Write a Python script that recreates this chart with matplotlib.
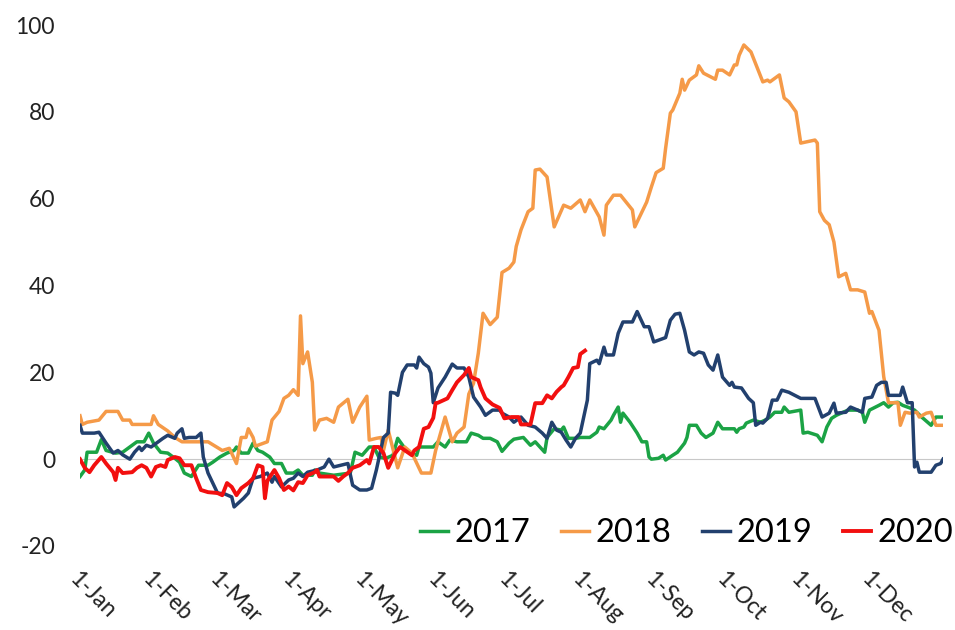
import matplotlib
matplotlib.use("Agg")
import matplotlib.pyplot as plt
import numpy as np

plt.rcParams['font.family'] = ['Lato', 'DejaVu Sans']

# day-of-year offsets (0 = 1-Jan) and values
d2017 = [0,2,3,7,9,11,15,18,21,24,27,29,31,34,37,40,42,44,47,50,54,56,59,62,65,66,68,71,73,75,77,80,82,85,87,90,92,94,98,99,101,107,114,116,119,122,124,126,129,132,134,137,139,142,143,149,151,154,156,159,163,165,168,170,173,176,178,181,183,187,190,192,196,197,200,203,204,206,209,211,215,218,219,221,224,225,227,228,229,232,235,237,239,240,241,244,246,247,250,252,255,256,257,260,262,264,267,269,271,276,277,278,280,281,284,287,289,291,293,296,297,299,304,305,307,311,313,315,317,319,321,324,328,330,331,333,337,339,341,343,345,347,350,352,355,359,361,364]
v2017 = [-4,-2.5,1.6,1.6,4.5,2,1.4,1.6,2.8,4,4,6,3.7,1.6,1.4,0.2,-0.7,-3.2,-4,-1.4,-1.4,-0.7,0.5,1.4,2,2.8,1.4,1.4,3.7,2,1.6,0.5,-1,-1,-3.2,-3.2,-2.5,-3.7,-3.7,-2.5,-3.2,-3.7,-3.2,1.6,0.9,2.8,2.8,0.5,0.2,0.9,4.8,2.5,1.4,0.9,2.8,2.8,4,2.8,4.4,4,4,6,5.5,4.8,4.8,4,1.8,3.7,4.6,5,3.2,4,1.6,5,7,6.7,7.4,4.8,4.8,5,5,6.2,7.4,7,9,10.1,12,8.5,10.6,8.5,6,4,4,0.5,0,0.2,0.9,-0.2,0.9,1.6,3.7,5,7.8,7.8,6,5,6,8.5,7,7,6.2,7,7.4,8.3,9,8.5,9,9.7,10.8,10.8,12,10.8,11.3,6,6.2,5.5,4,7.4,9.4,10.1,10.6,11.3,11.3,10.8,8.5,11.3,12.4,13,12,13,13.1,12.4,11.8,11.3,9.7,7.8,9.7,9.7]

d2018 = [0,1,3,8,11,16,18,21,22,30,31,33,37,40,43,54,57,60,63,66,68,70,71,73,74,79,81,84,86,88,90,92,93,94,96,98,99,101,104,107,109,113,115,118,121,122,125,127,128,130,134,137,140,144,148,150,154,157,159,162,164,166,168,170,173,176,178,181,183,184,186,189,191,192,194,197,200,204,207,211,213,215,219,221,222,225,228,233,234,239,241,243,246,247,249,250,253,254,255,257,260,261,263,268,269,271,274,276,277,278,280,283,288,290,291,295,297,299,302,304,310,311,312,314,316,318,320,323,325,328,331,333,334,337,339,341,345,346,348,350,353,354,357,359,361,364]
v2018 = [10,8,8.5,9,11,11,9,9,8,8,10,8,6.5,5,4,4,3,2,2.5,-1,5,5,7,5,3,4,9,11,14,14.7,16,14.7,33,22,24.7,17.7,6.7,9,9.4,8.5,12,13.8,8.5,12,14.5,4.4,4.8,5,2,6.7,-2,2.8,1.4,-3.2,-3.2,2,9.7,4,6,7.4,15,17.5,24.4,33.6,31,32.7,43,44,45.4,49,52.8,57,57.8,66.6,66.8,65,53.5,58.5,57.8,59.7,57,59.7,55.8,51.6,58.5,60.8,60.8,57.4,53.5,59.2,62.7,66,67,71.6,79.7,80.4,84.3,87.5,85,87.3,88.5,90.6,88.9,87.5,89.6,89.6,88.5,90.8,90.8,93,95.4,93.8,86.9,87.3,86.9,88.5,83.2,82.3,80,72.8,73.5,72.8,57,55,54,50,42,42.8,39,39,38.5,33.6,34,29.7,19,13,13,7.8,10.8,10.6,10.8,9.7,10.6,10.8,7.8,7.8]

d2019 = [0,1,6,8,11,14,16,18,21,23,25,26,28,30,33,35,37,40,41,43,44,46,49,51,52,54,56,58,61,64,65,69,71,73,76,79,81,82,85,88,90,92,94,96,100,103,105,107,110,113,115,118,121,123,125,128,130,131,133,134,136,138,141,142,143,145,147,148,149,151,154,157,159,162,164,166,169,171,174,177,178,181,183,186,189,192,195,197,199,201,203,205,207,209,211,214,215,218,219,221,222,225,227,229,233,235,238,240,242,244,247,249,251,253,255,257,259,261,263,265,267,269,271,274,275,276,279,282,284,285,287,288,290,292,294,296,299,304,310,313,316,318,319,323,325,328,330,331,334,336,338,340,341,346,347,349,351,352,353,354,359,361,363,364]
v2019 = [7.8,6,6,6.2,3.7,1.4,2,1,0,1.6,2.8,2,3.2,2.8,4,4.8,5.5,4.8,6,7,4.8,5,5,6,0.5,-3.2,-5.5,-7.8,-8,-8.7,-11,-9,-7.8,-4.4,-4,-3.2,-5.3,-4,-6.4,-4.8,-4.4,-3.2,-4,-3,-2.5,-1.8,0,-1.8,-1.4,-1,-6,-7.1,-7.1,-6.7,-2.5,5,6,15.4,15.2,14.7,20,21.7,21.7,21,23.5,22,21.2,19.8,13,16.4,18.9,21.9,21,21,18.9,14.3,12,10.1,11.3,11.3,10.6,9.7,8.5,9.7,7.8,7.4,6,4.8,8.5,6.7,6.2,4.4,2.8,4.8,6,13.6,22,22.8,22,25.8,24,24,29,31.6,31.6,34,30.5,30.5,27,27.4,28,32,33.4,33.6,29.7,24.7,24,24.7,24.4,21.7,20.5,24,18.9,17,17.7,16.6,16.4,14,13,7.8,8.5,8.3,9.4,13.6,13.6,15.9,15.4,14,14,9.7,10.6,12.9,10.6,10.8,12,11.3,10.8,14,14.3,17,17.7,17.7,14.7,14.7,16.6,13,13,-1.8,-0.7,-3,-3,-1.4,-1,0]

d2020 = [0,2,4,6,9,11,14,15,16,18,22,24,26,28,30,32,34,36,37,40,42,44,47,49,51,54,58,60,62,64,66,68,71,73,75,77,78,79,82,84,86,88,90,92,94,96,99,100,101,107,109,111,113,115,118,121,122,124,126,128,130,133,135,140,141,143,145,147,149,150,151,155,157,159,162,164,165,168,169,171,174,177,179,182,185,186,190,192,195,197,199,201,203,204,206,208,210,211,213]
v2020 = [0,-2,-3,-1.4,0.5,-1,-3,-4.8,-2,-3.2,-3,-2,-1.4,-2,-4,-1.8,-1.4,-1.8,-0.2,0.5,0.2,-1.4,-1.4,-4.4,-7.1,-7.6,-7.8,-8.3,-5.5,-6.4,-8.3,-6.7,-5.5,-4.4,-1.4,-1.8,-9,-5,-2.5,-4.4,-7.1,-6.3,-7.2,-5.3,-5.5,-3.7,-3,-2.5,-4,-4,-5,-4,-3.2,-2,-1.4,-0.2,-1,2.8,2.8,1.4,-2,1.4,2.8,0.9,2,2.8,7,7.4,9.5,12.9,13,14,15.9,17.7,19.4,21,18.9,18.2,16.5,14,12.6,11.8,9.4,9.7,9.7,8,8,12.9,12.9,14.7,14,15.5,16.6,17,18.9,21,21.2,24.2,25]

series = [("2017", d2017, v2017, "#1BA345", 2.5),
          ("2018", d2018, v2018, "#F59A48", 2.5),
          ("2019", d2019, v2019, "#22406E", 2.5),
          ("2020", d2020, v2020, "#F20F0F", 2.8)]

month_starts = [0, 31, 59, 90, 120, 151, 181, 212, 243, 273, 304, 334]
month_labels = ["1-Jan", "1-Feb", "1-Mar", "1-Apr", "1-May", "1-Jun",
                "1-Jul", "1-Aug", "1-Sep", "1-Oct", "1-Nov", "1-Dec"]
y_ticks = [-20, 0, 20, 40, 60, 80, 100]

fig = plt.figure(figsize=(9.55, 6.30), dpi=100)
ax = fig.add_axes([80/955, 1-546/630, (943-80)/955, (546-25)/630])

for name, d, v, c, lw in series:
    ax.plot(d, v, color=c, lw=lw, label=name, solid_joinstyle='round')

ax.axhline(0, color="#C8C8C8", lw=0.8, zorder=0)
ax.set_xlim(0, 364)
ax.set_ylim(-20, 100)
ax.set_yticks(y_ticks)
ax.set_yticklabels([str(t) for t in y_ticks], fontsize=16.5, color="#222222")
ax.set_xticks(month_starts)
ax.set_xticklabels(month_labels, fontsize=16.5, color="#222222", rotation=-45,
                   ha='left', va='top', rotation_mode='anchor')
ax.tick_params(axis='both', length=0)
ax.tick_params(axis='y', pad=18)
ax.tick_params(axis='x', pad=16)
for s in ax.spines.values():
    s.set_visible(False)

ax.legend(ncol=4, loc='center right', bbox_to_anchor=(953/955, 1-533/630),
          bbox_transform=fig.transFigure, frameon=False, borderaxespad=0, borderpad=0,
          fontsize=23.5, handlelength=0.85, handletextpad=0.2, columnspacing=0.95)

fig.savefig("out.png", dpi=100)
